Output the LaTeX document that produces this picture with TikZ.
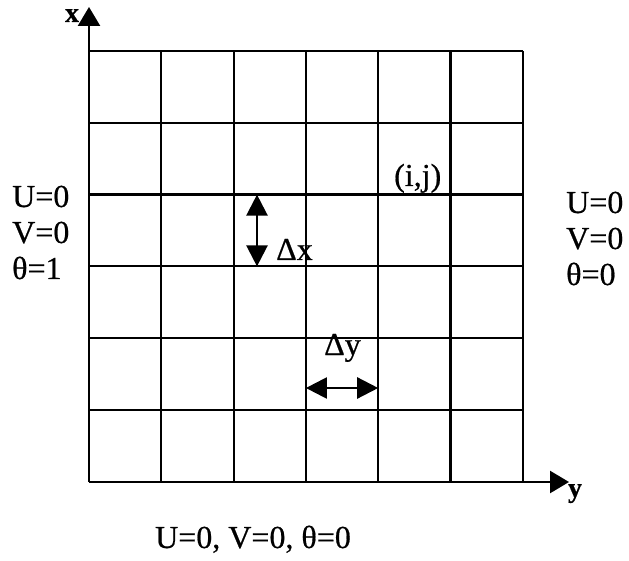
\documentclass[tikz,border=0pt]{standalone}
\usepackage{fontspec}
\setmainfont{Liberation Serif}[RawFeature={embolden=0.6}]
\usetikzlibrary{arrows.meta}
\begin{document}
\begin{tikzpicture}[x=1pt,y=-1pt,
  gridline/.style={line width=2.2pt},
  axisline/.style={line width=2.6pt,-{Triangle[length=19pt,width=22pt]}},
  deltaarrow/.style={line width=2.4pt,{Triangle[length=21pt,width=21pt]}-{Triangle[length=21pt,width=21pt]}},
  lbl/.style={font=\fontsize{32}{36}\selectfont,inner sep=0pt}]
\useasboundingbox (0,0) rectangle (629,561);
% grid
\foreach \c in {89,161.3,233.6,305.9,378.2,450.5,522.8}
  \draw[gridline] (\c,51) -- (\c,482);
\foreach \r in {51,122.8,194.6,266.4,338.2,410,482}
  \draw[gridline] (89,\r) -- (522.8,\r);
% axes
\coordinate (O) at (89,482);
\coordinate (xend) at (89,7);
\coordinate (yend) at (569,482);
\draw[axisline] (O) -- (xend);
\draw[axisline] (O) -- (yend);
\node[lbl,font=\fontsize{28}{30}\selectfont\bfseries,anchor=base] (xl) at (72,22) {x};
\node[lbl,font=\fontsize{28}{30}\selectfont\bfseries,anchor=base] (yl) at (575,497) {y};
% delta arrows
\coordinate (dxa) at (257,194.6);
\coordinate (dxb) at (257,266.4);
\draw[deltaarrow] (dxa) -- (dxb);
\node[lbl,anchor=base west] (dx) at (276,260) {Δx};
\coordinate (dya) at (305.9,388);
\coordinate (dyb) at (378.2,388);
\draw[deltaarrow] (dya) -- (dyb);
\node[lbl,anchor=base west] (dy) at (324,355) {Δy};
% labels
\node[lbl,anchor=base west] (ij) at (394,186) {(i,j)};
\node[lbl,anchor=base west] (lu) at (12,207) {U=0};
\node[lbl,anchor=base west] (lv) at (12,243) {V=0};
\node[lbl,anchor=base west] (lt) at (12,279) {θ=1};
\node[lbl,anchor=base west] (ru) at (566,213) {U=0};
\node[lbl,anchor=base west] (rv) at (566,249) {V=0};
\node[lbl,anchor=base west] (rt) at (566,285) {θ=0};
\node[lbl,anchor=base] (bottom) at (253,548) {U=0, V=0, θ=0};
\end{tikzpicture}
\end{document}
